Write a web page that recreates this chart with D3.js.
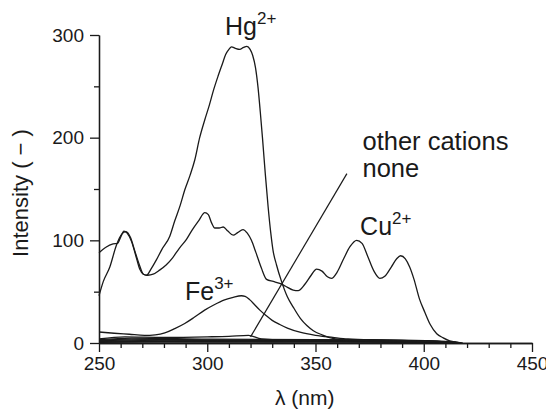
<!DOCTYPE html>
<html>
<head>
<meta charset="utf-8">
<script src="https://cdn.jsdelivr.net/npm/d3@7/dist/d3.min.js"></script>
<style>
  body { margin: 0; background: #fff; }
  text { font-family: "Liberation Sans", Arial, sans-serif; fill: #1a1a1a; }
</style>
</head>
<body>
<div id="spectra"></div>
<script>
// emission spectra, [wavelength nm, intensity]
var hg = [[250,46],[252,60],[255,74],[258,95],[260.5,106],[262.5,108.5],[264.5,103],[266.5,90],[268.5,77],
  [270.5,67],[272,66],[274,72],[276.5,81],[279,91],[282.7,104],[285,119],[287.5,134],[289.6,149],[292,163],
  [294.2,178],[296.5,200],[298.8,217],[301,232],[303,247],[305,260],[307,272],[308.5,281],[310,286],
  [311.2,288.5],[313,287],[315,286],[316.8,288],[318.3,289],[319.8,286],[321,280],[322.3,268],[323.5,248],
  [324.5,225],[325.5,200],[326.8,165],[328.1,133],[329.3,108],[330.4,90],[332,76],[334.3,60],[337,45],
  [339.7,35],[343,24],[346,17],[349,12],[353,8],[358,4.5],[365,3],[380,2],[400,1.5],[415,0.5]];

var cu = [[250,88],[253,93],[256.5,96.5],[258.5,97],[260,103],[261.5,109],[263,107],[265,99],[267,85],
  [268.8,72],[270.5,67],[272.5,66],[275,67],[278,71],[281,76],[284,83],[287,92],[290.4,101],[293,110],
  [296,119],[298.9,127],[300.5,125],[302,117],[303.5,112],[305.5,112],[307.4,113],[309.5,109],[312,105],
  [314,107.5],[316.5,110.5],[318.5,107],[320.4,100],[322.5,88],[325,73],[327.4,62],[330.5,60],[333.5,58],
  [336,55.5],[339.7,51.5],[342,51],[345,57],[348,66],[350.5,72],[353,70],[355.5,64.5],[357.4,63],[360,69],
  [363,82],[366,94],[369,100],[371.5,97],[374,85],[377,70],[379.7,63],[382,65],[385,74],[387.5,82],
  [389.3,85],[391.5,82],[393.5,74],[395.5,62],[398,43],[400.5,30],[403,18],[406,9],[409,5],[412,2],[416,0.5]];

var fe = [[250,10.7],[257,9.5],[264,8.5],[271,7.5],[276,8],[280.4,9.8],[285,14],[289.6,19],[294,25],
  [298.8,32],[303,37],[308,42],[312,44.5],[315.8,46],[317.5,45.5],[319.7,42],[322,37],[324.3,32],[327,27],
  [330,22],[333.5,18],[337,14.5],[342.8,10.5],[350,7.5],[358,5.5],[365,4],[380,3],[400,2],[415,0.5]];

var other1 = [[250,4],[262,6],[280,5.5],[300,6],[310,6.5],[319,7.5],[325,4],[335,3],[360,3],[400,2],[417,0]];
var other2 = [[250,3.2],[265,4.8],[300,3.8],[350,3.2],[390,2.8],[410,1.5],[418,0]];
var other3 = [[250,2.6],[265,3.8],[300,3],[350,2.7],[390,2.2],[410,1.1],[417,0]];
var other4 = [[250,2.1],[270,3],[320,2.2],[360,2.4],[400,1.6],[416,0]];
var other5 = [[250,1.6],[270,2.2],[320,1.6],[360,1.9],[400,1.1],[416,0]];
var other6 = [[250,1.1],[280,1.6],[330,1.2],[380,1.4],[415,0]];
var none = [[250,0.6],[300,0.9],[350,0.9],[400,0.6],[415,0]];

var xMajor = [250, 300, 350, 400, 450];
var yMajor = [0, 100, 200, 300];
var yMinor = [50, 150, 250];

var margin = {top: 35, right: 14, bottom: 69, left: 99},
    width = 546 - margin.left - margin.right,
    height = 412 - margin.top - margin.bottom;

var x = d3.scaleLinear().domain([250, 450]).range([0, width]);
var y = d3.scaleLinear().domain([0, 300]).range([height, 0]);

var line = d3.line()
    .curve(d3.curveMonotoneX)
    .x(function(d) { return x(d[0]); })
    .y(function(d) { return y(d[1]); });

var svg = d3.select("#spectra")
  .append("svg")
    .attr("width", 546)
    .attr("height", 412)
  .append("g")
    .attr("transform", "translate(" + margin.left + "," + margin.top + ")");

// axes
var xMinor = d3.range(260, 450, 10).filter(function(v) { return v % 50 !== 0; });

svg.append("g")
    .attr("transform", "translate(0," + height + ")")
    .call(d3.axisBottom(x).tickValues(xMinor).tickSize(5).tickSizeOuter(0).tickFormat(""));

svg.append("g")
    .attr("class", "axis-x")
    .attr("transform", "translate(0," + height + ")")
    .call(d3.axisBottom(x).tickValues(xMajor).tickSize(9).tickSizeOuter(0).tickPadding(5).tickFormat(d3.format("d")));

svg.append("g")
    .call(d3.axisLeft(y).tickValues(yMinor).tickSize(5).tickSizeOuter(0).tickFormat(""));

svg.append("g")
    .attr("class", "axis-y")
    .call(d3.axisLeft(y).tickValues(yMajor).tickSize(9).tickSizeOuter(0).tickPadding(6).tickFormat(d3.format("d")));

svg.selectAll(".domain, .tick line")
    .attr("stroke", "#1a1a1a")
    .attr("stroke-width", 1.3);

svg.selectAll(".tick text")
    .attr("font-size", 19)
    .attr("fill", "#1a1a1a");

// axis titles
svg.append("text")
    .attr("x", x(345))
    .attr("y", height + 62)
    .attr("text-anchor", "middle")
    .attr("font-size", 21)
    .text("λ (nm)");

svg.append("text")
    .attr("transform", "rotate(-90)")
    .attr("x", -158)
    .attr("y", -71)
    .attr("text-anchor", "middle")
    .attr("font-size", 22)
    .text("Intensity ( − )");

// spectra
var series = [none, other6, other5, other4, other3, other2, other1, fe, cu, hg];

svg.append("g")
    .selectAll("path")
    .data(series)
    .enter()
  .append("path")
    .attr("fill", "none")
    .attr("stroke", "#1a1a1a")
    .attr("stroke-width", 1.3)
    .attr("stroke-linejoin", "round")
    .attr("d", function(d) { return line(d); });

// leader line for the unresponsive cations
var leader = [[320, 6], [364.5, 165]];
svg.append("path")
    .attr("fill", "none")
    .attr("stroke", "#1a1a1a")
    .attr("stroke-width", 1.2)
    .attr("d", d3.line().x(function(d) { return x(d[0]); }).y(function(d) { return y(d[1]); })(leader));

// labels
var labels = [
  {name: "Hg", sup: "2+", at: [308.2, 300]},
  {name: "Cu", sup: "2+", at: [370.6, 105]},
  {name: "Fe", sup: "3+", at: [289.7, 42.3]}
];

labels.forEach(function(l) {
  var t = svg.append("text")
      .attr("x", x(l.at[0]))
      .attr("y", y(l.at[1]))
      .attr("font-size", 25);
  t.append("tspan").text(l.name);
  t.append("tspan")
      .attr("font-size", 17)
      .attr("dy", -11)
      .text(l.sup);
});

svg.append("text")
    .attr("x", x(371.7))
    .attr("y", y(188))
    .attr("font-size", 25.5)
    .text("other cations");

svg.append("text")
    .attr("x", x(371.7))
    .attr("y", y(161.8))
    .attr("font-size", 25.5)
    .text("none");
</script>
</body>
</html>
